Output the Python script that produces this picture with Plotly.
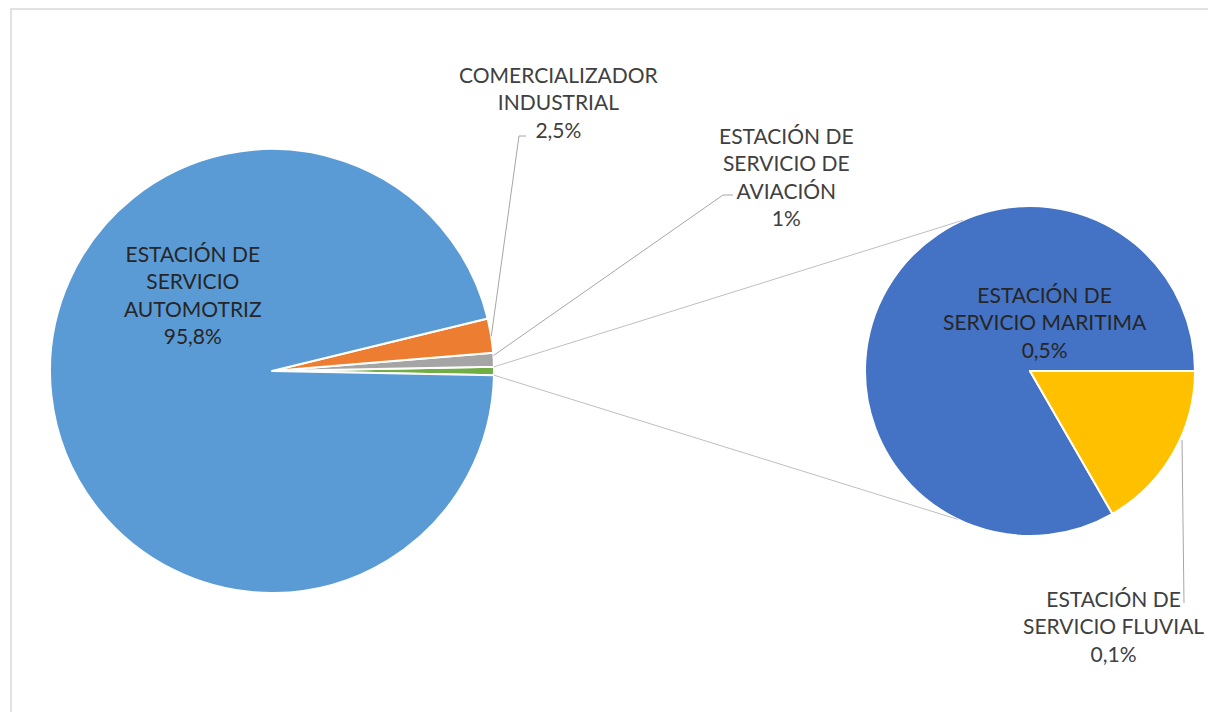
import math
import plotly.graph_objects as go

# ---------------- data ----------------
main_labels = ["OTROS", "ESTACIÓN DE SERVICIO DE AVIACIÓN",
               "COMERCIALIZADOR INDUSTRIAL", "ESTACIÓN DE SERVICIO AUTOMOTRIZ"]
main_values = [0.6, 1.0, 2.5, 95.8]
main_colors = ["#70AD47", "#A5A5A5", "#ED7D31", "#5B9BD5"]

sub_labels = ["ESTACIÓN DE SERVICIO MARITIMA", "ESTACIÓN DE SERVICIO FLUVIAL"]
sub_values = [0.5, 0.1]
sub_colors = ["#4472C4", "#FFC000"]

label_automotriz = "ESTACIÓN DE<br>SERVICIO<br>AUTOMOTRIZ<br>95,8%"
label_comercial = "COMERCIALIZADOR<br>INDUSTRIAL<br>2,5%"
label_aviacion = "ESTACIÓN DE<br>SERVICIO DE<br>AVIACIÓN<br>1%"
label_maritima = "ESTACIÓN DE<br>SERVICIO MARITIMA<br>0,5%"
label_fluvial = "ESTACIÓN DE<br>SERVICIO FLUVIAL<br>0,1%"

# ---------------- layout helpers ----------------
OFF = 8                      # page body margin
W, H = 1200, 704
C1, R1 = (272, 371), 222
C2, R2 = (1030, 371), 165


def px(x):
    return (x - OFF) / W


def py(y):
    return 1 - (y - OFF) / H


def dom(c, r):
    return dict(x=[px(c[0] - r), px(c[0] + r)], y=[py(c[1] + r), py(c[1] - r)])


def edge(c, r, deg):
    a = math.radians(deg)
    return (c[0] + r * math.cos(a), c[1] - r * math.sin(a))


total = sum(main_values)
half_other = main_values[0] / total * 360 / 2
fluvial_deg = sub_values[1] / sum(sub_values) * 360

fig = go.Figure()
fig.add_trace(go.Pie(
    labels=main_labels, values=main_values, sort=False,
    direction="counterclockwise", rotation=90 - half_other,
    marker=dict(colors=main_colors, line=dict(color="white", width=2)),
    textinfo="none", hoverinfo="label+value", domain=dom(C1, R1),
    showlegend=False,
))
fig.add_trace(go.Pie(
    labels=sub_labels, values=sub_values, sort=False,
    direction="counterclockwise", rotation=90 + fluvial_deg,
    marker=dict(colors=sub_colors, line=dict(color="white", width=2)),
    textinfo="none", hoverinfo="label+value", domain=dom(C2, R2),
    showlegend=False,
))

line_col = "#A6A6A6"
shapes = []


def seg(p0, p1, color=line_col, width=1):
    shapes.append(dict(type="line", xref="paper", yref="paper",
                       x0=px(p0[0]), y0=py(p0[1]), x1=px(p1[0]), y1=py(p1[1]),
                       line=dict(color=color, width=width)))


# connector lines between pies
seg(edge(C1, R1, half_other), edge(C2, R2, 114), "#BFBFBF")
seg(edge(C1, R1, -half_other), edge(C2, R2, -116), "#BFBFBF")

# leader lines
p = edge(C1, R1, 9)
seg(p, (519, 136))
seg((519, 136), (526, 136))
p = edge(C1, R1, 4)
seg(p, (723, 195))
seg((723, 195), (733, 195))
seg((1182, 440), (1184, 603))

# frame (only top/left visible)
shapes.append(dict(type="rect", xref="paper", yref="paper",
                   x0=px(11), y0=-0.02, x1=1.02, y1=py(9),
                   line=dict(color="#D9D9D9", width=1.5)))

FONT = "Lato, 'Open Sans', sans-serif"
annotations = []


def ann(text, x, y, color="#404040"):
    annotations.append(dict(text=text, x=px(x), y=py(y), xref="paper", yref="paper",
                            showarrow=False, align="center", xanchor="center",
                            yanchor="middle",
                            font=dict(family=FONT, size=21, color=color)))


ann(label_automotriz, 193, 294, "#262626")
ann(label_comercial, 559, 102)
ann(label_aviacion, 786, 176)
ann(label_maritima, 1045, 322, "#262626")
ann(label_fluvial, 1113, 626)

fig.update_layout(
    width=W, height=H, margin=dict(l=0, r=0, t=0, b=0),
    paper_bgcolor="white", plot_bgcolor="white",
    shapes=shapes, annotations=annotations, showlegend=False,
)

fig.write_html("out.html")
